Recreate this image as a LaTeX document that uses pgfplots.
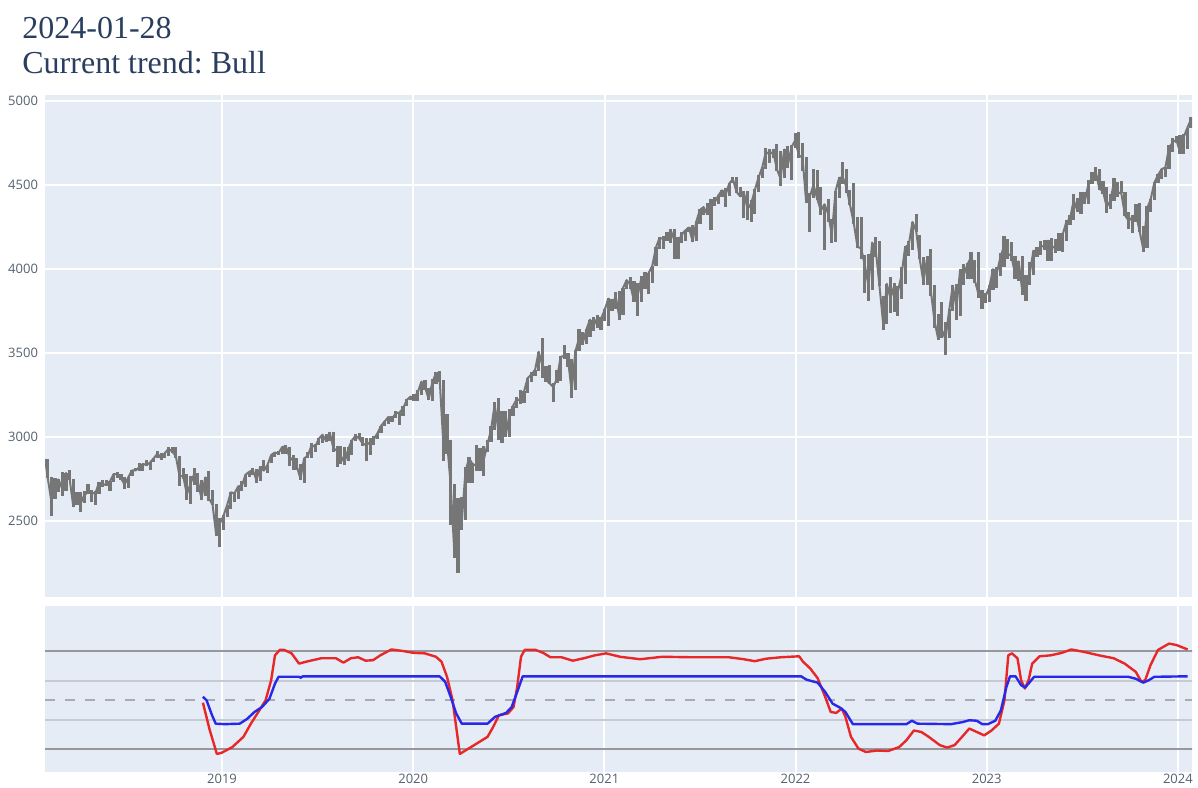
\documentclass[border=0pt]{standalone}
\usepackage{fontspec}
\setmainfont{Liberation Serif}
\newfontfamily\tickfont{Open Sans}
\usepackage{pgfplots}
\pgfplotsset{compat=1.18}
\usepgfplotslibrary{dateplot}
\definecolor{plotbg}{HTML}{E5ECF6}
\definecolor{titlec}{HTML}{2A3F5F}
\definecolor{tickc}{HTML}{556070}
\definecolor{ohlc}{RGB}{118,118,118}
\definecolor{darkline}{RGB}{150,150,155}
\definecolor{lightline}{RGB}{198,202,210}
\definecolor{zeroline}{RGB}{170,170,175}
\definecolor{redl}{RGB}{232,40,40}
\definecolor{bluel}{RGB}{40,40,235}
\frenchspacing
\begin{document}
\begin{tikzpicture}
\useasboundingbox (0pt,0pt) rectangle (599pt,393.5pt);
\node[anchor=base west, inner sep=0, text=titlec, font=\fontsize{16}{19}\selectfont] at (11pt,374pt) {2024-01-28};
\node[anchor=base west, inner sep=0, text=titlec, font=\fontsize{16}{19}\selectfont] at (11pt,356.5pt) {Current trend: Bull};

\begin{axis}[
  at={(22.5pt,95pt)}, anchor=south west,
  width=573.5pt, height=251pt, scale only axis,
  date coordinates in=x,
  xmin=2018-01-28, xmax=2024-01-28,
  ymin=2048, ymax=5036,
  xtick={2019-01-01,2020-01-01,2021-01-01,2022-01-01,2023-01-01,2024-01-01},
  xticklabels={},
  ytick={2500,3000,3500,4000,4500,5000},
  /pgf/number format/1000 sep={},
  /pgf/number format/assume math mode=true,
  yticklabel style={font=\tickfont\fontsize{6.5}{7}\selectfont, text=tickc},
  grid=major, grid style={white, line width=1pt},
  axis line style={draw=none}, major tick length=0pt,
  axis background/.style={fill=plotbg},
  clip=true,
]
\addplot[ohlc, line width=1pt, line join=round, mark=none,
  error bars/.cd, y dir=both, y explicit,
  error bar style={ohlc, line width=1.6pt}, error mark=none]
table[x=d, y=c, y error plus expr=\thisrow{hi}-\thisrow{c}, y error minus expr=\thisrow{c}-\thisrow{lo}] {
d lo hi c
2018-01-29 2836 2872 2853
2018-02-02 2759 2870 2762
2018-02-09 2532 2763 2620
2018-02-16 2630 2755 2732
2018-02-23 2675 2748 2747
2018-03-02 2647 2790 2691
2018-03-09 2676 2786 2786
2018-03-16 2745 2802 2752
2018-03-23 2585 2752 2588
2018-03-30 2594 2674 2641
2018-04-06 2553 2672 2604
2018-04-13 2610 2680 2656
2018-04-20 2660 2718 2670
2018-04-27 2612 2683 2670
2018-05-04 2594 2676 2663
2018-05-11 2660 2732 2728
2018-05-18 2701 2742 2713
2018-05-25 2706 2743 2721
2018-06-01 2676 2737 2735
2018-06-08 2734 2779 2779
2018-06-15 2755 2791 2780
2018-06-22 2747 2778 2755
2018-06-29 2691 2762 2718
2018-07-06 2698 2763 2760
2018-07-13 2770 2804 2801
2018-07-20 2795 2816 2802
2018-07-27 2799 2848 2819
2018-08-03 2795 2841 2840
2018-08-10 2830 2864 2833
2018-08-17 2802 2852 2850
2018-08-24 2853 2877 2875
2018-08-31 2877 2916 2902
2018-09-07 2864 2907 2872
2018-09-14 2876 2908 2905
2018-09-21 2885 2941 2930
2018-09-28 2904 2940 2914
2018-10-05 2874 2940 2886
2018-10-12 2710 2889 2767
2018-10-19 2750 2817 2768
2018-10-26 2628 2779 2659
2018-11-02 2603 2766 2723
2018-11-09 2716 2816 2781
2018-11-16 2671 2788 2736
2018-11-23 2632 2746 2633
2018-11-30 2649 2760 2760
2018-12-07 2621 2800 2633
2018-12-14 2593 2685 2600
2018-12-21 2409 2602 2417
2018-12-28 2346 2520 2486
2019-01-04 2444 2539 2532
2019-01-11 2524 2597 2596
2019-01-18 2571 2675 2671
2019-01-25 2613 2671 2665
2019-02-01 2631 2708 2707
2019-02-08 2681 2738 2708
2019-02-15 2703 2776 2776
2019-02-22 2765 2794 2793
2019-03-01 2775 2816 2804
2019-03-08 2729 2812 2743
2019-03-15 2741 2830 2822
2019-03-22 2800 2861 2800
2019-03-29 2785 2836 2834
2019-04-05 2848 2894 2893
2019-04-12 2879 2910 2907
2019-04-19 2892 2918 2905
2019-04-26 2897 2940 2940
2019-05-03 2901 2954 2946
2019-05-10 2826 2942 2881
2019-05-17 2801 2891 2860
2019-05-24 2805 2875 2826
2019-05-31 2750 2837 2752
2019-06-07 2728 2876 2873
2019-06-14 2873 2911 2887
2019-06-21 2874 2964 2950
2019-06-28 2913 2957 2942
2019-07-05 2952 2995 2990
2019-07-12 2966 3014 3014
2019-07-19 2975 3018 2977
2019-07-26 2976 3028 3026
2019-08-02 2914 3028 2932
2019-08-09 2822 2944 2919
2019-08-16 2840 2944 2889
2019-08-23 2836 2939 2847
2019-08-30 2857 2941 2926
2019-09-06 2892 2985 2979
2019-09-13 2979 3021 3007
2019-09-20 2993 3022 2992
2019-09-27 2945 3002 2961
2019-10-04 2856 2993 2952
2019-10-11 2892 2993 2970
2019-10-18 2955 3008 2986
2019-10-25 2990 3027 3023
2019-11-01 3022 3067 3067
2019-11-08 3066 3098 3093
2019-11-15 3077 3121 3120
2019-11-22 3091 3128 3110
2019-11-29 3113 3154 3141
2019-12-06 3070 3146 3146
2019-12-13 3124 3182 3169
2019-12-20 3184 3226 3221
2019-12-27 3223 3247 3240
2020-01-03 3212 3259 3235
2020-01-10 3214 3282 3265
2020-01-17 3253 3330 3330
2020-01-24 3281 3338 3295
2020-01-31 3222 3294 3226
2020-02-07 3214 3347 3328
2020-02-14 3315 3385 3380
2020-02-21 3328 3393 3338
2020-02-28 2855 3337 2954
2020-03-06 2901 3136 2972
2020-03-13 2478 2985 2711
2020-03-20 2280 2718 2305
2020-03-27 2192 2637 2541
2020-04-03 2447 2641 2489
2020-04-10 2505 2819 2790
2020-04-17 2728 2880 2875
2020-04-24 2727 2846 2837
2020-05-01 2797 2954 2831
2020-05-08 2797 2934 2930
2020-05-15 2766 2945 2864
2020-05-22 2913 2980 2955
2020-05-29 2969 3068 3044
2020-06-05 3044 3211 3194
2020-06-12 2984 3233 3041
2020-06-19 2966 3156 3098
2020-06-26 3003 3154 3009
2020-07-03 2999 3166 3130
2020-07-10 3127 3186 3185
2020-07-17 3173 3236 3225
2020-07-24 3199 3280 3216
2020-07-31 3204 3272 3271
2020-08-07 3260 3352 3351
2020-08-14 3328 3387 3373
2020-08-21 3361 3399 3397
2020-08-28 3396 3509 3508
2020-09-04 3350 3588 3427
2020-09-11 3329 3425 3341
2020-09-18 3313 3429 3319
2020-09-25 3209 3320 3298
2020-10-02 3323 3398 3348
2020-10-09 3331 3482 3477
2020-10-16 3465 3550 3484
2020-10-23 3415 3502 3465
2020-10-30 3233 3465 3270
2020-11-06 3279 3520 3509
2020-11-13 3510 3645 3585
2020-11-20 3550 3628 3557
2020-11-27 3555 3644 3638
2020-12-04 3594 3699 3699
2020-12-11 3633 3712 3663
2020-12-18 3648 3726 3709
2020-12-25 3636 3712 3703
2021-01-01 3691 3760 3756
2021-01-08 3662 3826 3824
2021-01-15 3749 3823 3768
2021-01-22 3764 3861 3841
2021-01-29 3694 3870 3714
2021-02-05 3725 3887 3887
2021-02-12 3884 3937 3934
2021-02-19 3884 3950 3907
2021-02-26 3805 3928 3811
2021-03-05 3723 3914 3842
2021-03-12 3806 3960 3943
2021-03-19 3884 3983 3913
2021-03-26 3853 3978 3975
2021-04-02 3917 4020 4019
2021-04-09 4020 4129 4129
2021-04-16 4118 4192 4185
2021-04-23 4118 4194 4180
2021-04-30 4164 4218 4181
2021-05-07 4157 4238 4232
2021-05-14 4057 4238 4174
2021-05-21 4061 4188 4156
2021-05-28 4155 4220 4204
2021-06-04 4168 4233 4230
2021-06-11 4218 4249 4247
2021-06-18 4165 4261 4166
2021-06-25 4164 4286 4281
2021-07-02 4271 4356 4352
2021-07-09 4320 4372 4369
2021-07-16 4321 4394 4327
2021-07-23 4233 4415 4412
2021-07-30 4378 4430 4395
2021-08-06 4385 4440 4437
2021-08-13 4427 4470 4468
2021-08-20 4368 4480 4442
2021-08-27 4437 4513 4509
2021-09-03 4512 4546 4535
2021-09-10 4457 4549 4459
2021-09-17 4427 4486 4433
2021-09-24 4306 4465 4455
2021-10-01 4289 4467 4357
2021-10-08 4279 4412 4391
2021-10-15 4329 4476 4471
2021-10-22 4460 4559 4545
2021-10-29 4541 4608 4605
2021-11-05 4595 4718 4697
2021-11-12 4630 4714 4683
2021-11-19 4662 4717 4698
2021-11-26 4585 4743 4595
2021-12-03 4495 4704 4538
2021-12-10 4544 4713 4712
2021-12-17 4600 4731 4620
2021-12-24 4531 4740 4726
2021-12-31 4720 4808 4766
2022-01-07 4663 4818 4677
2022-01-14 4582 4749 4663
2022-01-21 4395 4665 4398
2022-01-28 4222 4454 4432
2022-02-04 4420 4595 4501
2022-02-11 4414 4590 4419
2022-02-18 4324 4490 4349
2022-02-25 4114 4386 4385
2022-03-04 4279 4416 4329
2022-03-11 4157 4300 4204
2022-03-18 4162 4465 4463
2022-03-25 4424 4546 4543
2022-04-01 4506 4637 4546
2022-04-08 4450 4593 4488
2022-04-14 4381 4471 4392
2022-04-22 4267 4513 4272
2022-04-29 4124 4309 4132
2022-05-06 4062 4308 4123
2022-05-13 3859 4081 4024
2022-05-20 3811 4090 3901
2022-05-27 3875 4158 4158
2022-06-03 4073 4190 4109
2022-06-10 3901 4168 3901
2022-06-17 3637 3838 3675
2022-06-24 3674 3913 3912
2022-07-01 3739 3950 3825
2022-07-08 3743 3918 3899
2022-07-15 3721 3900 3863
2022-07-22 3819 4013 3962
2022-07-29 3913 4140 4130
2022-08-05 4079 4167 4145
2022-08-12 4115 4280 4280
2022-08-19 4218 4325 4228
2022-08-26 4057 4203 4057
2022-09-02 3907 4073 3924
2022-09-09 3903 4076 4067
2022-09-16 3837 4119 3873
2022-09-23 3647 3907 3693
2022-09-30 3584 3733 3586
2022-10-07 3591 3806 3640
2022-10-14 3491 3685 3583
2022-10-21 3591 3762 3752
2022-10-28 3752 3905 3901
2022-11-04 3698 3912 3771
2022-11-11 3723 3999 3993
2022-11-18 3906 4029 3965
2022-11-25 3939 4034 4027
2022-12-02 3940 4101 4072
2022-12-09 3918 4052 3934
2022-12-16 3828 4101 3852
2022-12-23 3764 3876 3845
2022-12-30 3796 3859 3840
2023-01-06 3802 3906 3895
2023-01-13 3877 4003 3999
2023-01-20 3886 4015 3973
2023-01-27 3960 4095 4071
2023-02-03 4015 4195 4136
2023-02-10 4060 4176 4090
2023-02-17 4047 4163 4079
2023-02-24 3943 4080 3970
2023-03-03 3928 4048 4046
2023-03-10 3847 4078 3862
2023-03-17 3809 3964 3917
2023-03-24 3908 4040 3971
2023-03-31 3962 4110 4109
2023-04-07 4069 4133 4105
2023-04-14 4083 4164 4138
2023-04-21 4116 4170 4133
2023-04-28 4049 4170 4169
2023-05-05 4049 4187 4136
2023-05-12 4098 4176 4124
2023-05-19 4109 4213 4192
2023-05-26 4103 4212 4205
2023-06-02 4166 4290 4282
2023-06-09 4261 4323 4299
2023-06-16 4292 4448 4410
2023-06-23 4341 4420 4348
2023-06-30 4328 4458 4450
2023-07-07 4385 4456 4399
2023-07-14 4389 4528 4505
2023-07-21 4505 4578 4536
2023-07-28 4527 4607 4582
2023-08-04 4474 4595 4478
2023-08-11 4448 4527 4464
2023-08-18 4335 4490 4370
2023-08-25 4356 4448 4406
2023-09-01 4403 4541 4515
2023-09-08 4430 4520 4457
2023-09-15 4450 4527 4450
2023-09-22 4316 4461 4320
2023-09-29 4238 4337 4288
2023-10-06 4216 4319 4308
2023-10-13 4283 4385 4327
2023-10-20 4223 4394 4224
2023-10-27 4103 4256 4117
2023-11-03 4127 4373 4358
2023-11-10 4338 4418 4415
2023-11-17 4411 4521 4514
2023-11-24 4511 4568 4559
2023-12-01 4537 4595 4595
2023-12-08 4546 4609 4604
2023-12-15 4593 4739 4719
2023-12-22 4697 4778 4755
2023-12-29 4751 4793 4770
2024-01-05 4683 4798 4697
2024-01-12 4682 4802 4784
2024-01-19 4714 4842 4840
2024-01-26 4842 4903 4891
};
\end{axis}

\begin{axis}[
  at={(22.5pt,7.5pt)}, anchor=south west,
  width=573.5pt, height=83pt, scale only axis,
  xmin=2018.074, xmax=2024.074,
  ymin=-1.47, ymax=1.93,
  xtick={2019,2020,2021,2022,2023,2024},
  xticklabels={2019,2020,2021,2022,2023,2024},
  ytick=\empty,
  xmajorgrids, grid style={white, line width=1pt},
  xticklabel style={font=\tickfont\fontsize{6.5}{7}\selectfont, text=tickc, inner sep=0.8pt},
  axis line style={draw=none}, major tick length=0pt,
  axis background/.style={fill=plotbg},
  clip=true,
]
\addplot[darkline, line width=1pt] coordinates {(2018,1) (2025,1)};
\addplot[darkline, line width=1pt] coordinates {(2018,-1) (2025,-1)};
\addplot[lightline, line width=1pt] coordinates {(2018,0.4) (2025,0.4)};
\addplot[lightline, line width=1pt] coordinates {(2018,-0.4) (2025,-0.4)};
\addplot[zeroline, line width=1pt, dash pattern=on 5pt off 5pt] coordinates {(2018.074,0) (2024.074,0)};
\addplot[redl, line width=1.2pt, line join=round] coordinates {
(2018.900,-0.05) (2018.935,-0.60) (2018.973,-1.10) (2018.996,-1.08) (2019.054,-0.96)
(2019.112,-0.75) (2019.151,-0.48) (2019.190,-0.24) (2019.228,0.00) (2019.257,0.41)
(2019.277,0.92) (2019.302,1.03) (2019.325,1.03) (2019.364,0.96) (2019.403,0.75)
(2019.441,0.79) (2019.519,0.86) (2019.596,0.86) (2019.635,0.77) (2019.674,0.86)
(2019.712,0.88) (2019.751,0.81) (2019.790,0.82) (2019.828,0.92) (2019.886,1.04)
(2019.944,1.01) (2020.002,0.97) (2020.061,0.96) (2020.119,0.89) (2020.148,0.79)
(2020.177,0.48) (2020.206,0.00) (2020.225,-0.55) (2020.244,-1.10) (2020.273,-1.03)
(2020.331,-0.89) (2020.389,-0.75) (2020.418,-0.55) (2020.448,-0.31) (2020.496,-0.27)
(2020.525,-0.14) (2020.544,0.27) (2020.564,0.89) (2020.583,1.03) (2020.641,1.03)
(2020.680,0.97) (2020.718,0.88) (2020.776,0.88) (2020.835,0.81) (2020.893,0.86)
(2020.951,0.92) (2021.009,0.96) (2021.082,0.89) (2021.187,0.84) (2021.303,0.89)
(2021.458,0.88) (2021.652,0.88) (2021.729,0.84) (2021.787,0.80) (2021.845,0.85)
(2021.923,0.88) (2022.019,0.90) (2022.039,0.79) (2022.077,0.65) (2022.116,0.45)
(2022.155,0.07) (2022.184,-0.24) (2022.213,-0.26) (2022.242,-0.17) (2022.261,-0.34)
(2022.290,-0.75) (2022.329,-0.99) (2022.368,-1.06) (2022.426,-1.03) (2022.484,-1.04)
(2022.542,-0.96) (2022.580,-0.82) (2022.619,-0.62) (2022.658,-0.65) (2022.697,-0.75)
(2022.755,-0.92) (2022.793,-0.97) (2022.832,-0.92) (2022.871,-0.75) (2022.909,-0.58)
(2022.948,-0.65) (2022.987,-0.72) (2023.025,-0.62) (2023.064,-0.48) (2023.093,0.00)
(2023.113,0.92) (2023.132,0.96) (2023.161,0.86) (2023.180,0.41) (2023.200,0.24)
(2023.219,0.41) (2023.238,0.75) (2023.277,0.90) (2023.335,0.92) (2023.393,0.97)
(2023.442,1.04) (2023.509,0.99) (2023.587,0.92) (2023.664,0.86) (2023.722,0.75)
(2023.780,0.58) (2023.809,0.38) (2023.829,0.41) (2023.857,0.72) (2023.896,1.03)
(2023.954,1.16) (2023.993,1.13) (2024.051,1.04)
};
\addplot[bluel, line width=1.2pt, line join=round] coordinates {
(2018.900,0.07) (2018.919,0.00) (2018.948,-0.31) (2018.967,-0.48) (2019.015,-0.49)
(2019.093,-0.48) (2019.132,-0.38) (2019.170,-0.24) (2019.209,-0.14) (2019.248,0.03)
(2019.277,0.34) (2019.296,0.48) (2019.403,0.48) (2019.412,0.46) (2019.422,0.49)
(2020.138,0.49) (2020.167,0.38) (2020.196,0.07) (2020.225,-0.27) (2020.254,-0.48)
(2020.389,-0.48) (2020.428,-0.34) (2020.486,-0.26) (2020.515,-0.14) (2020.544,0.17)
(2020.573,0.49) (2022.029,0.49) (2022.058,0.42) (2022.116,0.36) (2022.155,0.17)
(2022.194,-0.07) (2022.232,-0.15) (2022.261,-0.24) (2022.300,-0.49) (2022.580,-0.49)
(2022.609,-0.42) (2022.638,-0.48) (2022.813,-0.49) (2022.871,-0.45) (2022.909,-0.41)
(2022.948,-0.42) (2022.977,-0.49) (2023.006,-0.49) (2023.045,-0.42) (2023.074,-0.21)
(2023.103,0.27) (2023.122,0.49) (2023.151,0.49) (2023.180,0.31) (2023.200,0.26)
(2023.219,0.34) (2023.248,0.48) (2023.741,0.48) (2023.780,0.44) (2023.819,0.36)
(2023.848,0.41) (2023.877,0.48) (2024.051,0.49)
};
\end{axis}
\end{tikzpicture}
\end{document}
